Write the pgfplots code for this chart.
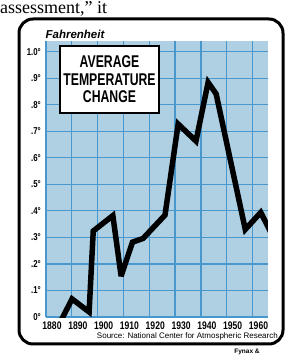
\documentclass[border=0pt]{standalone}
\usepackage{fontspec}
\setmainfont{Liberation Sans}
\newfontfamily\cond[FakeStretch=0.78]{Liberation Sans}
\newfontfamily\condt[FakeStretch=0.72]{Liberation Sans}
\newfontfamily\serif{Liberation Serif}
\usepackage{pgfplots}
\usepackage{pgfplotstable}
\pgfplotsset{compat=1.18}
\definecolor{bgblue}{RGB}{174,208,226}
\definecolor{gridblue}{RGB}{72,152,206}

\pgfplotstableread{
year val
1886.0 -0.01
1890.1 0.068
1896.7 0.019
1898.3 0.324
1905.9 0.382
1909.1 0.154
1913.5 0.282
1917.6 0.296
1926.1 0.384
1931.2 0.727
1938.1 0.663
1942.8 0.884
1945.9 0.841
1957.2 0.330
1963.2 0.394
1969.1 0.280
}\tempdata

\begin{document}
\begin{tikzpicture}[x=1pt,y=1pt]
\begin{axis}[
  at={(46pt,44pt)}, anchor=south west,
  scale only axis, width=222pt, height=276pt,
  xmin=1880, xmax=1966, ymin=0, ymax=1.04,
  xtick={1880,1890,1900,1910,1920,1930,1940,1950,1960},
  xticklabels={1880,1890,1900,1910,1920,1930,1940,1950,1960},
  ytick={0,0.1,0.2,0.3,0.4,0.5,0.6,0.7,0.8,0.9,1.0},
  yticklabels={0°,.1°,.2°,.3°,.4°,.5°,.6°,.7°,.8°,.9°,1.0°},
  grid=major,
  major grid style={gridblue, line width=1.3pt},
  axis line style={draw=none},
  major tick length=0pt,
  xticklabel style={font=\cond\bfseries\fontsize{11}{11}\selectfont, inner sep=1pt, yshift=-3.5pt, xshift=6pt},
  yticklabel style={font=\cond\bfseries\fontsize{10}{10}\selectfont, inner sep=1pt, xshift=-4pt},
  axis background/.style={fill=bgblue},
  clip=true,
]
\addplot[black, line width=5.5pt, line join=miter, miter limit=4] table[x=year,y=val]{\tempdata};
\end{axis}
\draw[line width=3pt, rounded corners=14pt] (19,17) rectangle (283,342);
\node[draw, line width=2.5pt, fill=white, minimum width=99pt, minimum height=67pt, inner sep=0pt, align=center,
  font=\condt\bfseries\fontsize{17}{17.5}\selectfont] at (109.5,281.5) {AVERAGE\\TEMPERATURE\\CHANGE};
\node[font=\bfseries\itshape\fontsize{11.5}{12}\selectfont, inner sep=0pt] at (75,327) {Fahrenheit};
\node[anchor=east, font=\fontsize{8}{9}\selectfont, inner sep=0pt] at (278,25) {Source: National Center for Atmospheric Research};
\node[font=\bfseries\fontsize{6.5}{7}\selectfont, inner sep=0pt] at (247,9) {Fynax \&};
\node[anchor=base west, font=\serif\fontsize{18}{18}\selectfont, inner sep=0pt] at (0,347) {assessment,” it};
\pgfresetboundingbox
\useasboundingbox (0,0) rectangle (285,361);
\end{tikzpicture}
\end{document}
